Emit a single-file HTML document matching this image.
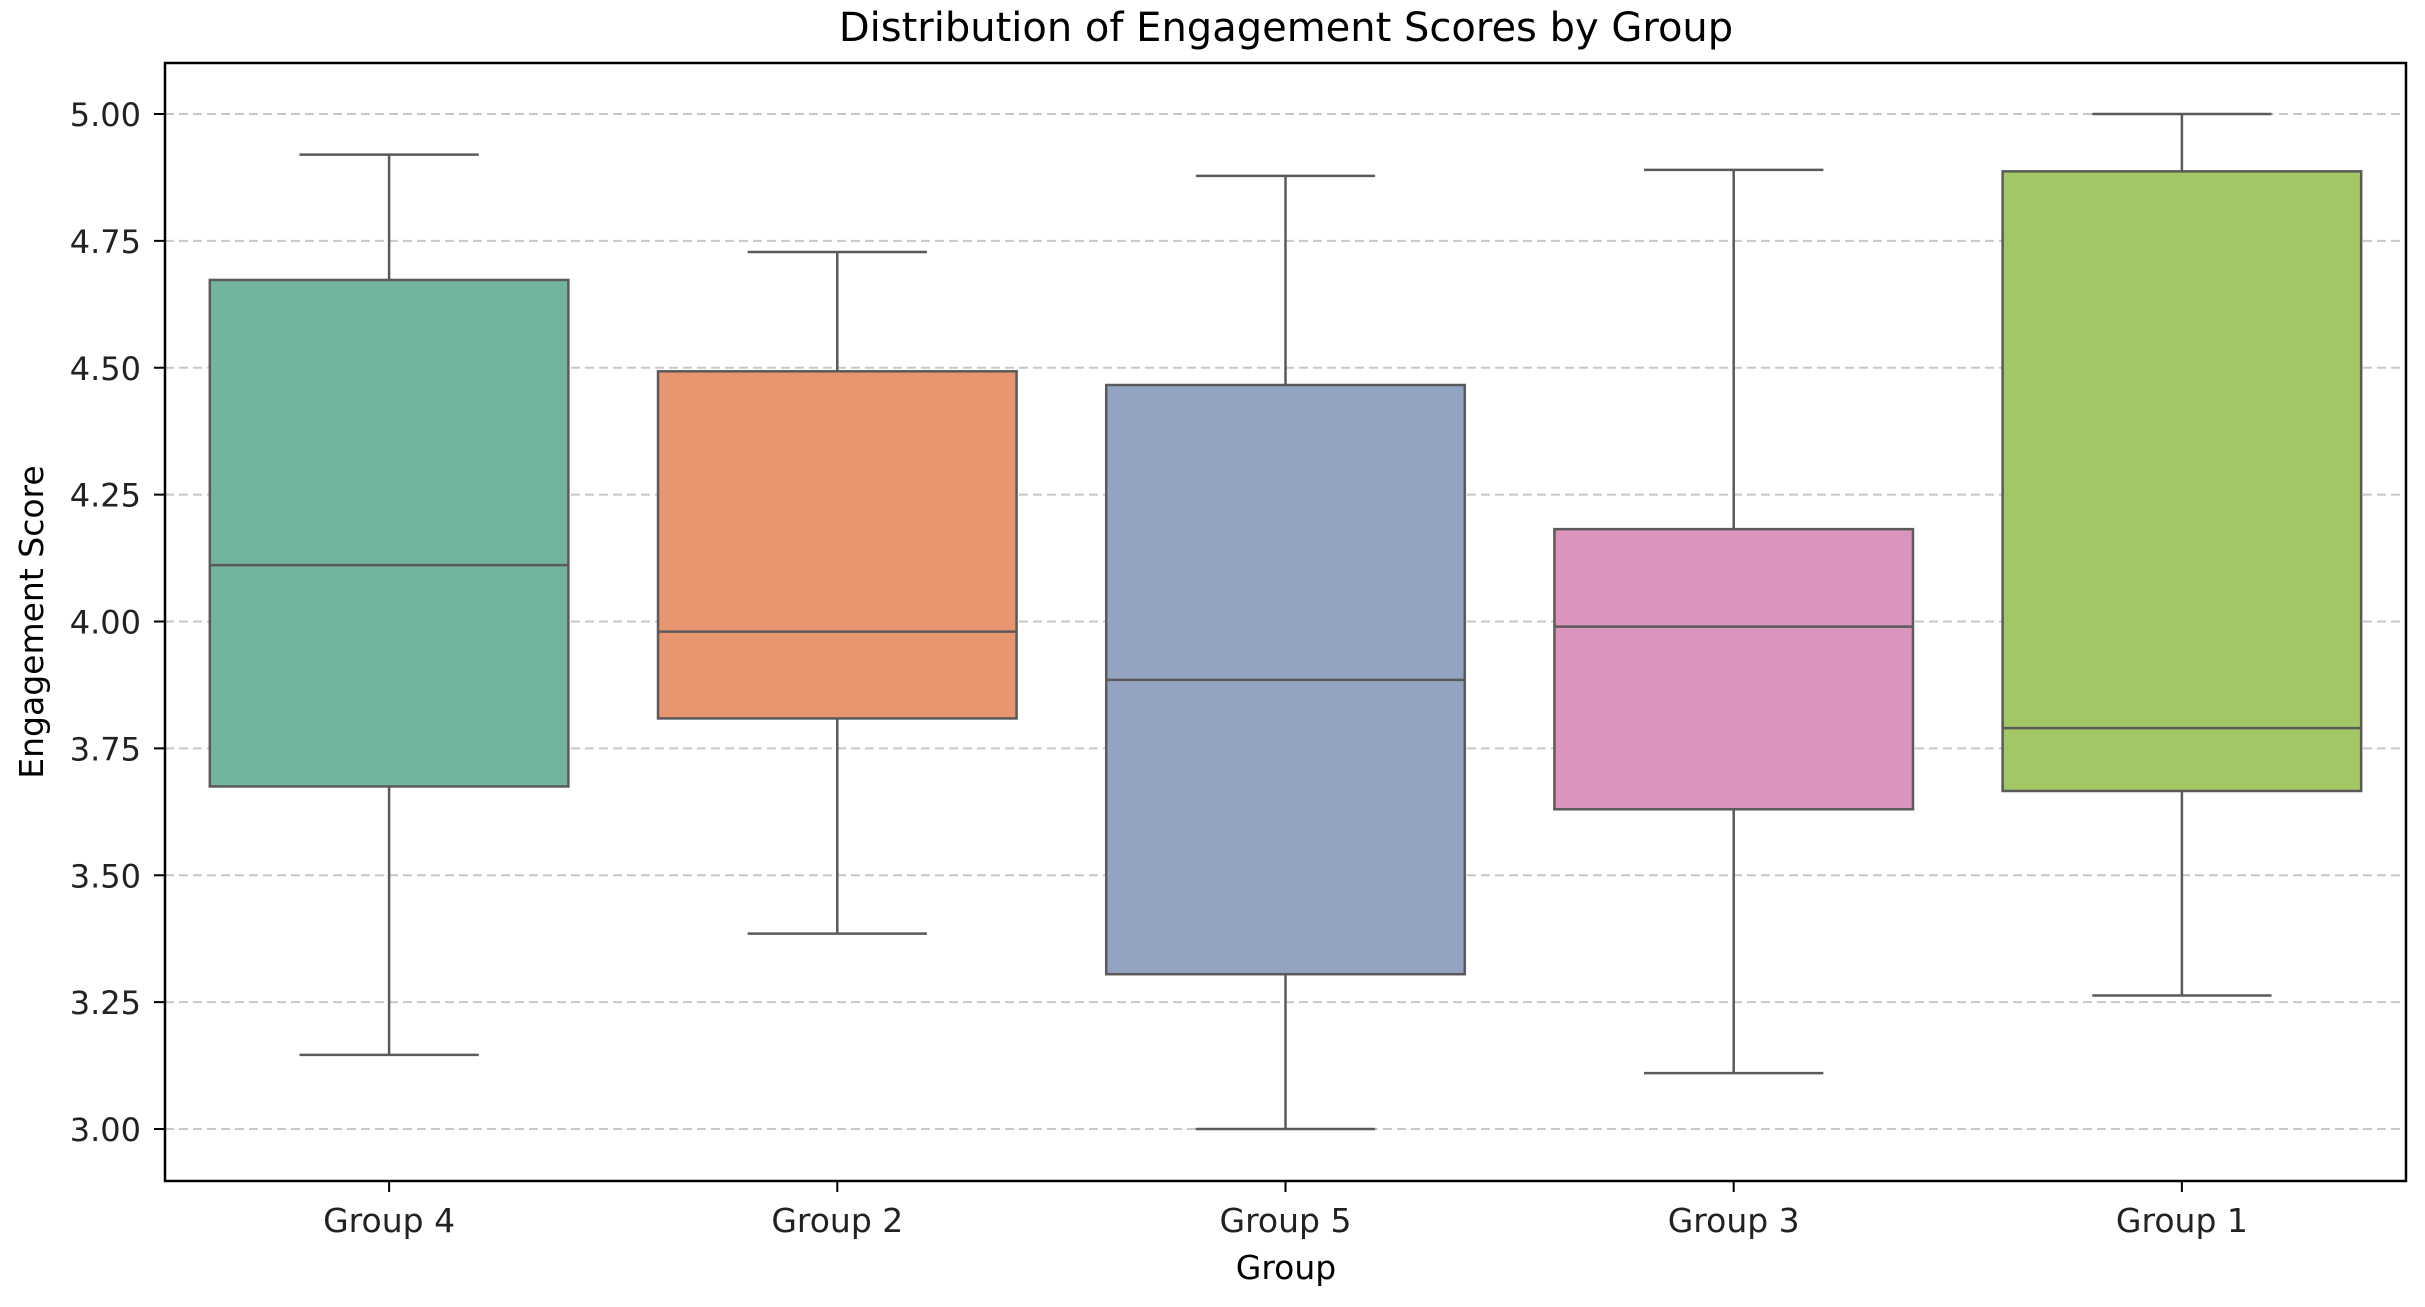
<!DOCTYPE html>
<html><head><meta charset="utf-8"><style>
html,body{margin:0;padding:0;background:#fff;}
svg{display:block;font-family:"DejaVu Sans","Liberation Sans",sans-serif;}
</style></head><body>
<svg id="chart" width="2425" height="1307" viewBox="0 0 2425 1307">
<text x="1286" y="41" text-anchor="middle" font-size="40" fill="#000">Distribution of Engagement Scores by Group</text>
<g id="grid"></g>
<g id="boxes"></g>
<rect x="165" y="63" width="2241" height="1118" fill="none" stroke="#000" stroke-width="2.5"/>
<g id="yticks"></g>
<g id="xticks"></g>
<text x="1286" y="1279" text-anchor="middle" font-size="33" fill="#000">Group</text>
<text transform="translate(43,622) rotate(-90)" text-anchor="middle" font-size="33" fill="#000">Engagement Score</text>
</svg>
<script>
const categories = ["Group 4","Group 2","Group 5","Group 3","Group 1"];
const whiskerLow = [3.146,3.385,3.00,3.11,3.263];
const q1 = [3.675,3.809,3.305,3.63,3.666];
const medians = [4.111,3.98,3.885,3.99,3.79];
const q3 = [4.673,4.493,4.466,4.182,4.887];
const whiskerHigh = [4.92,4.728,4.878,4.89,5.0];
const yTicks = [3.00,3.25,3.50,3.75,4.00,4.25,4.50,4.75,5.00];
const colors = ["#73b4a0","#e8966f","#93a3c2","#db94be","#a2c764"];

const NS="http://www.w3.org/2000/svg";
const L=165,R=2406,T=63,B=1181;
const y=v=>114+(5-v)*507.5;
const band=(R-L)/categories.length;
const x=i=>L+band*(i+0.5);
function mk(tag,attrs,parent){const e=document.createElementNS(NS,tag);for(const k in attrs)e.setAttribute(k,attrs[k]);parent.appendChild(e);return e;}
const grid=document.getElementById('grid'),yt=document.getElementById('yticks'),xt=document.getElementById('xticks'),bx=document.getElementById('boxes');
yTicks.forEach(v=>{
  const g=mk('line',{x1:L,x2:R,y1:y(v),y2:y(v),stroke:'#c8c8c8','stroke-width':2,'stroke-dasharray':'9,5'},grid);
  
  
  const t=mk('line',{x1:L-11,x2:L,y1:y(v),y2:y(v),stroke:'#000','stroke-width':2},yt);
  
  
  const l=mk('text',{x:L-24,y:y(v)+12,'text-anchor':'end','font-size':32,fill:'#222'},yt);
  l.textContent=v.toFixed(2);
  
  
});
const bw=band*0.8, cw=bw/2, st='#5a5a5a';
categories.forEach((c,i)=>{
  const cx=x(i);
  const g=mk('g',{},bx);
  
  
  mk('line',{x1:cx,x2:cx,y1:y(whiskerHigh[i]),y2:y(q3[i]),stroke:st,'stroke-width':2.5},g);
  mk('line',{x1:cx,x2:cx,y1:y(q1[i]),y2:y(whiskerLow[i]),stroke:st,'stroke-width':2.5},g);
  mk('line',{x1:cx-cw/2,x2:cx+cw/2,y1:y(whiskerHigh[i]),y2:y(whiskerHigh[i]),stroke:st,'stroke-width':2.5},g);
  mk('line',{x1:cx-cw/2,x2:cx+cw/2,y1:y(whiskerLow[i]),y2:y(whiskerLow[i]),stroke:st,'stroke-width':2.5},g);
  mk('rect',{x:cx-bw/2,y:y(q3[i]),width:bw,height:y(q1[i])-y(q3[i]),fill:colors[i],stroke:st,'stroke-width':2.5},g);
  mk('line',{x1:cx-bw/2,x2:cx+bw/2,y1:y(medians[i]),y2:y(medians[i]),stroke:st,'stroke-width':2.5},g);
  const t=mk('line',{x1:cx,x2:cx,y1:B,y2:B+11,stroke:'#000','stroke-width':2},xt);
  
  
  const l=mk('text',{x:cx,y:1232,'text-anchor':'middle','font-size':33,fill:'#222'},xt);
  l.textContent=c;
  
  
});
</script>
</body></html>
